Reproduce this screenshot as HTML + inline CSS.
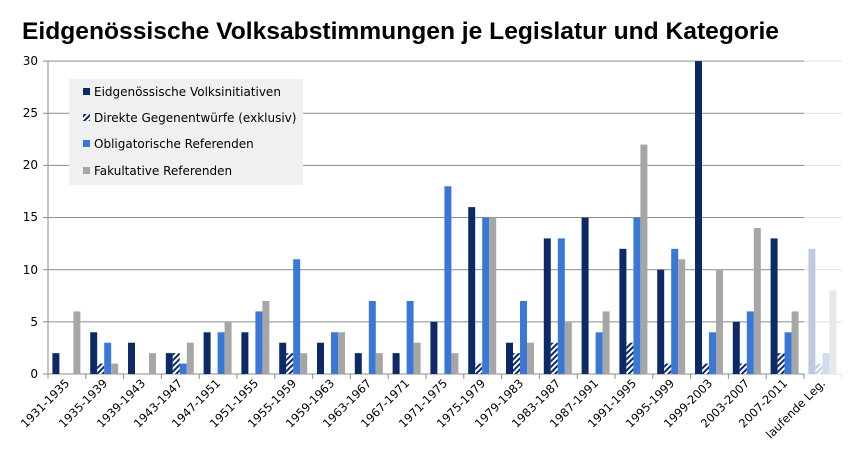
<!DOCTYPE html>
<html><head><meta charset="utf-8"><style>
body{margin:0;background:#fff;}
svg text{font-family:"DejaVu Sans","Liberation Sans",sans-serif;}
</style></head><body>
<svg id="c" width="868" height="467" viewBox="0 0 868 467" xmlns="http://www.w3.org/2000/svg">
<defs>
<pattern id="h" width="4" height="4" patternUnits="userSpaceOnUse" patternTransform="rotate(45)">
<rect width="4" height="4" fill="#fff"/><rect width="2" height="4" fill="#0c2a66"/></pattern>
<pattern id="hf" width="4" height="4" patternUnits="userSpaceOnUse" patternTransform="rotate(45)">
<rect width="4" height="4" fill="#fff"/><rect width="2" height="4" fill="#c0cade"/></pattern>
</defs>
<text x="22" y="39" font-size="24" font-weight="bold" fill="#000" textLength="757" lengthAdjust="spacingAndGlyphs" style="font-family:'Liberation Sans',sans-serif">Eidgenössische Volksabstimmungen je Legislatur und Kategorie</text>
<g id="grid"></g>
<g id="bars"></g>
<g font-size="12" fill="#000" text-anchor="end">
<text x="38" y="65">30</text><text x="38" y="117">25</text><text x="38" y="169">20</text>
<text x="38" y="221">15</text><text x="38" y="274">10</text><text x="38" y="326">5</text><text x="38" y="378">0</text>
</g>
<g font-size="11.5" fill="#000" text-anchor="end" id="xl">
<text transform="translate(70,384) rotate(-45)">1931-1935</text>
<text transform="translate(108,384) rotate(-45)">1935-1939</text>
<text transform="translate(146,384) rotate(-45)">1939-1943</text>
<text transform="translate(183,384) rotate(-45)">1943-1947</text>
<text transform="translate(221,384) rotate(-45)">1947-1951</text>
<text transform="translate(259,384) rotate(-45)">1951-1955</text>
<text transform="translate(297,384) rotate(-45)">1955-1959</text>
<text transform="translate(335,384) rotate(-45)">1959-1963</text>
<text transform="translate(372,384) rotate(-45)">1963-1967</text>
<text transform="translate(410,384) rotate(-45)">1967-1971</text>
<text transform="translate(448,384) rotate(-45)">1971-1975</text>
<text transform="translate(486,384) rotate(-45)">1975-1979</text>
<text transform="translate(524,384) rotate(-45)">1979-1983</text>
<text transform="translate(561,384) rotate(-45)">1983-1987</text>
<text transform="translate(599,384) rotate(-45)">1987-1991</text>
<text transform="translate(637,384) rotate(-45)">1991-1995</text>
<text transform="translate(675,384) rotate(-45)">1995-1999</text>
<text transform="translate(713,384) rotate(-45)">1999-2003</text>
<text transform="translate(750,384) rotate(-45)">2003-2007</text>
<text transform="translate(788,384) rotate(-45)">2007-2011</text>
<text transform="translate(826,384) rotate(-45)">laufende Leg.</text>
</g>
<rect x="69" y="79" width="234" height="106" fill="#f0f0f0"/>
<rect x="83" y="88" width="7" height="7" fill="#0c2a66"/>
<rect x="83" y="114" width="7" height="7" fill="url(#h)"/>
<rect x="83" y="140" width="7" height="7" fill="#3a78d8"/>
<rect x="83" y="167" width="7" height="7" fill="#a6a6a6"/>
<g font-size="12" fill="#000">
<text x="94" y="96">Eidgenössische Volksinitiativen</text>
<text x="94" y="122">Direkte Gegenentwürfe (exklusiv)</text>
<text x="94" y="148">Obligatorische Referenden</text>
<text x="94" y="175">Fakultative Referenden</text>
</g>
</svg>
<script>
const d=[[2,0,0,6],[4,1,3,1],[3,0,0,2],[2,2,1,3],[4,0,4,5],[4,0,6,7],[3,2,11,2],[3,0,4,4],[2,0,7,2],[2,0,7,3],[5,0,18,2],[16,1,15,15],[3,2,7,3],[13,3,13,5],[15,0,4,6],[12,3,15,22],[10,1,12,11],[30,1,4,10],[5,1,6,14],[13,2,4,6],[12,1,2,8]];
const L=48,W=37.8,B=374,U=10.43,ns="http://www.w3.org/2000/svg";
function r(p,a){const e=document.createElementNS(ns,"rect");for(const k in a)e.setAttribute(k,a[k]);document.getElementById(p).appendChild(e);}
for(let v=5;v<=30;v+=5){const y=B-v*U;r("grid",{x:L,y:y-0.5,width:W*20,height:1,fill:"#8c8c8c"});r("grid",{x:L+W*20,y:y-0.5,width:W,height:1,fill:"#e0e0e0"});r("grid",{x:L-5,y:y-0.5,width:5,height:1,fill:"#8c8c8c"});}
r("grid",{x:L-5,y:B-0.5,width:5,height:1,fill:"#8c8c8c"});
r("grid",{x:L-0.5,y:B-30*U,width:1,height:30*U,fill:"#8c8c8c"});
r("grid",{x:L,y:B-0.5,width:W*20,height:1,fill:"#8c8c8c"});
r("grid",{x:L+W*20,y:B-0.5,width:W,height:1,fill:"#e0e0e0"});
for(let i=0;i<=21;i++)r("grid",{x:L+W*i-0.5,y:B,width:1,height:5,fill:i>20?"#e0e0e0":"#8c8c8c"});
const cols=["#0c2a66","url(#h)","#3a78d8","#a6a6a6"],fc=["#c0cade","url(#hf)","#d0dcf4","#e8e8e8"];
d.forEach((g,i)=>g.forEach((v,j)=>{if(!v)return;r("bars",{x:L+W*i+4.4+j*7,y:B-v*U,width:7,height:v*U,fill:i==20?fc[j]:cols[j]});}));
</script>
</body></html>
